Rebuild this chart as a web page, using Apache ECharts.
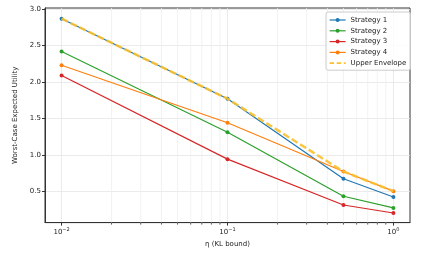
<!DOCTYPE html>
<html><head><meta charset="utf-8">
<script src="https://cdn.jsdelivr.net/npm/echarts@6/dist/echarts.min.js"></script>
<style>html,body{margin:0;padding:0;background:#fff}#c{width:426px;height:253px}</style>
</head><body><div id="c"></div>
<script>
const etaValues = [0.01, 0.1, 0.5, 1.0];
const strategy1 = [2.87, 1.77, 0.67, 0.42];
const strategy2 = [2.42, 1.31, 0.43, 0.27];
const strategy3 = [2.09, 0.94, 0.31, 0.20];
const strategy4 = [2.23, 1.44, 0.77, 0.50];
const upperEnvelope = [2.87, 1.77, 0.77, 0.50];
const xMajorTicks = [0.01, 0.1, 1];
const xMinorTicks = [0.02,0.03,0.04,0.05,0.06,0.07,0.08,0.09,0.2,0.3,0.4,0.5,0.6,0.7,0.8,0.9];
const yTicks = [0.5, 1.0, 1.5, 2.0, 2.5, 3.0];
const seriesNames = ['Strategy 1','Strategy 2','Strategy 3','Strategy 4','Upper Envelope'];

const FONT = 'DejaVu Sans';
const X_MIN = Math.pow(10, -2.1), X_MAX = Math.pow(10, 0.1);
const Y_MIN = 0.068, Y_MAX = 3.017;
function pair(xs, ys){ return xs.map((x,i)=>[x, ys[i]]); }
const colors = ['#1f77b4','#2ca02c','#d62728','#ff7f0e'];
const GOLD = '#fbc02d';

const chart = echarts.init(document.getElementById('c'), null, {renderer:'canvas'});
function lineSeries(name, data, color){
  return {name, type:'line', data: pair(etaValues, data), symbol:'circle', symbolSize:4,
    lineStyle:{color, width:1.2}, itemStyle:{color}, z:3, animation:false};
}
chart.setOption({
  animation:false,
  textStyle:{fontFamily:FONT},
  grid:{left:45, right:16, top:8, bottom:29, show:true, borderColor:'#333', borderWidth:1, containLabel:false},
  legend:{
    orient:'vertical', left:326, top:12,
    itemWidth:16, itemHeight:5, itemGap:2.8,
    padding:[4,4,3,3],
    lineStyle:{width:1.2},
    backgroundColor:'rgba(255,255,255,0.8)', borderColor:'#ccc', borderWidth:1, borderRadius:2,
    textStyle:{fontFamily:FONT, fontSize:7, color:'#222', lineHeight:8},
    data: [
      {name:seriesNames[0]}, {name:seriesNames[1]}, {name:seriesNames[2]}, {name:seriesNames[3]},
      {name:seriesNames[4], icon:'path://M0,0 L5,0 L5,2 L0,2 Z M8,0 L13,0 L13,2 L8,2 Z M16,0 L18,0 L18,2 L16,2 Z', itemStyle:{color:GOLD}}
    ]
  },
  xAxis:{
    type:'log', logBase:10, min:X_MIN, max:X_MAX,
    name:'η (KL bound)', nameLocation:'middle', nameGap:17,
    nameTextStyle:{fontFamily:FONT, fontSize:7, color:'#222'},
    axisLine:{show:true, lineStyle:{color:'#333', width:1}},
    axisTick:{show:true, length:3, lineStyle:{color:'#333'}, customValues: xMajorTicks},
    axisLabel:{customValues: xMajorTicks, margin:5, color:'#222', fontFamily:FONT, fontSize:7,
      formatter: v => { const e = Math.round(Math.log10(v)); return '10{s|' + String(e).replace('-', '−') + '}'; },
      rich:{s:{fontSize:5, verticalAlign:'top', padding:[0,0,5,0], fontFamily:FONT, color:'#222'}}},
    splitLine:{show:true, lineStyle:{color:'#e6e6e6', width:0.8}},
    minorTick:{show:false}
  },
  yAxis:{
    type:'value', min:Y_MIN, max:Y_MAX, minInterval:0.5, maxInterval:0.5,
    name:'Worst-Case Expected Utility', nameLocation:'middle', nameGap:24,
    nameTextStyle:{fontFamily:FONT, fontSize:7, color:'#222'},
    axisLine:{show:true, lineStyle:{color:'#333', width:1}},
    axisTick:{show:true, length:3, lineStyle:{color:'#333'}, customValues: yTicks},
    axisLabel:{customValues: yTicks, margin:4, color:'#222', fontFamily:FONT, fontSize:7,
      formatter: v => v.toFixed(1)},
    splitLine:{show:true, lineStyle:{color:'#e6e6e6', width:0.8}}
  },
  series:[
    {type:'custom', name:'minor', silent:true, z:1, clip:false,
     data: xMinorTicks.map(x=>[x, Y_MIN]),
     encode:{x:0, y:1},
     renderItem:(params, api)=>{
       const p = api.coord([api.value(0), Y_MIN]);
       const cs = params.coordSys;
       return {type:'group', children:[
         {type:'line', shape:{x1:p[0], y1:cs.y, x2:p[0], y2:cs.y+cs.height}, style:{stroke:'#efefef', lineWidth:0.8}},
         {type:'line', shape:{x1:p[0], y1:cs.y+cs.height, x2:p[0], y2:cs.y+cs.height+2}, style:{stroke:'#333', lineWidth:0.8}}
       ]};
     }},
    lineSeries(seriesNames[0], strategy1, colors[0]),
    lineSeries(seriesNames[1], strategy2, colors[1]),
    lineSeries(seriesNames[2], strategy3, colors[2]),
    lineSeries(seriesNames[3], strategy4, colors[3]),
    {name:seriesNames[4], type:'line', data: pair(etaValues, upperEnvelope), symbol:'none', z:4,
     lineStyle:{color:GOLD, width:2.5, type:[7,3], opacity:0.9}, itemStyle:{color:GOLD}}
  ]
});
</script></body></html>
